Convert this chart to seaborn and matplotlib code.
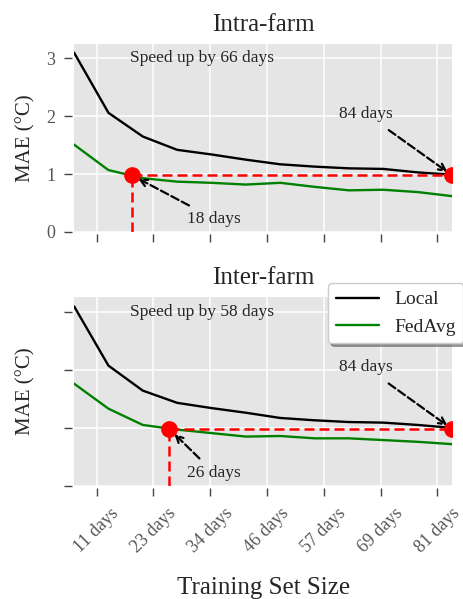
import matplotlib
matplotlib.use("Agg")
import matplotlib.pyplot as plt
import pandas as pd
import seaborn as sns

# Data
days = [7, 14, 21, 28, 35, 42, 49, 56, 63, 70, 77, 84]
intra_local = [3.10, 2.06, 1.65, 1.42, 1.34, 1.25, 1.17, 1.13, 1.10, 1.09, 1.03, 0.99]
intra_fedavg = [1.51, 1.07, 0.93, 0.87, 0.85, 0.82, 0.85, 0.78, 0.72, 0.73, 0.69, 0.62]
inter_local = [3.09, 2.07, 1.64, 1.43, 1.34, 1.26, 1.17, 1.13, 1.10, 1.09, 1.05, 1.00]
inter_fedavg = [1.76, 1.33, 1.05, 0.97, 0.91, 0.85, 0.86, 0.82, 0.82, 0.79, 0.76, 0.72]

titles = ["Intra-farm", "Inter-farm"]
cross_days = [18.8, 26.4]      # where FedAvg reaches the final Local error
target_mae = [0.98, 0.98]
final_day = 84
tick_pos = [11.57, 23.15, 34.72, 46.30, 57.87, 69.44, 81.02]
tick_labels = ["11 days", "23 days", "34 days", "46 days", "57 days", "69 days", "81 days"]

# Style
sns.set_style("darkgrid", {"axes.facecolor": "#E5E5E5", "grid.color": "white"})
plt.rcParams["font.family"] = "serif"
plt.rcParams["font.serif"] = ["Liberation Serif", "DejaVu Serif"]

fig = plt.figure(figsize=(4.63, 5.99), dpi=100)
ax1 = fig.add_axes([0.160, 0.6127, 0.8164, 0.3139])
ax2 = fig.add_axes([0.160, 0.1886, 0.8164, 0.3156])
axes = [ax1, ax2]

series = [(intra_local, intra_fedavg), (inter_local, inter_fedavg)]
palette = {"Local": "black", "FedAvg": "green"}

for i, ax in enumerate(axes):
    # spines first: moving them resets the ticks
    for side in ["top", "right", "left", "bottom"]:
        ax.spines[side].set_visible(False)
    ax.spines["left"].set_position(("outward", 1.5))
    ax.spines["bottom"].set_position(("outward", 1.5))

    local, fedavg = series[i]
    df = pd.DataFrame({
        "day": days + days,
        "mae": local + fedavg,
        "method": ["Local"] * len(days) + ["FedAvg"] * len(days),
    })
    sns.lineplot(data=df, x="day", y="mae", hue="method", palette=palette,
                 hue_order=["Local", "FedAvg"], linewidth=1.7, ax=ax,
                 legend=(i == 1))

    cx = cross_days[i]
    ty = target_mae[i]
    # red guide lines and markers
    ax.plot([cx, final_day], [ty, ty], color="red", lw=1.8, dashes=(4, 2), zorder=4)
    ax.plot([cx, cx], [0, ty], color="red", lw=1.8, dashes=(4, 2), zorder=4)
    ax.plot([cx, final_day], [ty, ty], "o", color="red", ms=11, zorder=5)

    ax.text(18.4, 3.0, "Speed up by %d days" % (final_day - int(cx)),
            ha="left", va="center", fontsize=12.5)
    ax.annotate("%d days" % int(cx), xy=(cx, ty), xytext=(35.5, 0.23),
                ha="center", va="center", fontsize=12.5,
                arrowprops=dict(arrowstyle="->", color="black", lw=1.6,
                                ls="--", shrinkA=3, shrinkB=5))
    ax.annotate("%d days" % final_day, xy=(final_day, ty), xytext=(66.5, 2.04),
                ha="center", va="center", fontsize=12.5,
                arrowprops=dict(arrowstyle="->", color="black", lw=1.6,
                                ls="--", shrinkA=6, shrinkB=4))

    ax.set_xlim(7, 84)
    ax.set_ylim(0, 3.25)
    ax.set_yticks([0, 1, 2, 3])
    ax.set_xticks(tick_pos)
    ax.set_xticklabels(tick_labels, rotation=45)
    ax.set_title(titles[i], fontsize=18, pad=9)
    ax.set_xlabel("")
    ax.set_ylabel("MAE (°C)", fontsize=15)
    ax.yaxis.set_label_coords(-0.103, 0.5)
    ax.grid(True, color="white", lw=1.1)
    ax.tick_params(axis="both", which="major", direction="out", length=6,
                   width=1, color="#444444", labelcolor="#555555",
                   labelsize=13, pad=6, left=True, bottom=True)

ax1.tick_params(labelbottom=False)
ax2.tick_params(labelleft=False)

handles, labels = ax2.get_legend_handles_labels()
ax2.legend(handles, labels, loc="upper right", bbox_to_anchor=(1.03, 1.074),
           fontsize=14, shadow=True, fancybox=True, framealpha=1,
           facecolor="white", edgecolor="#cccccc", handlelength=2.2,
           borderaxespad=0)

ax2.set_xlabel("Training Set Size", fontsize=18)
ax2.xaxis.set_label_coords(0.5, -0.48)

fig.savefig("out.png", dpi=100)
